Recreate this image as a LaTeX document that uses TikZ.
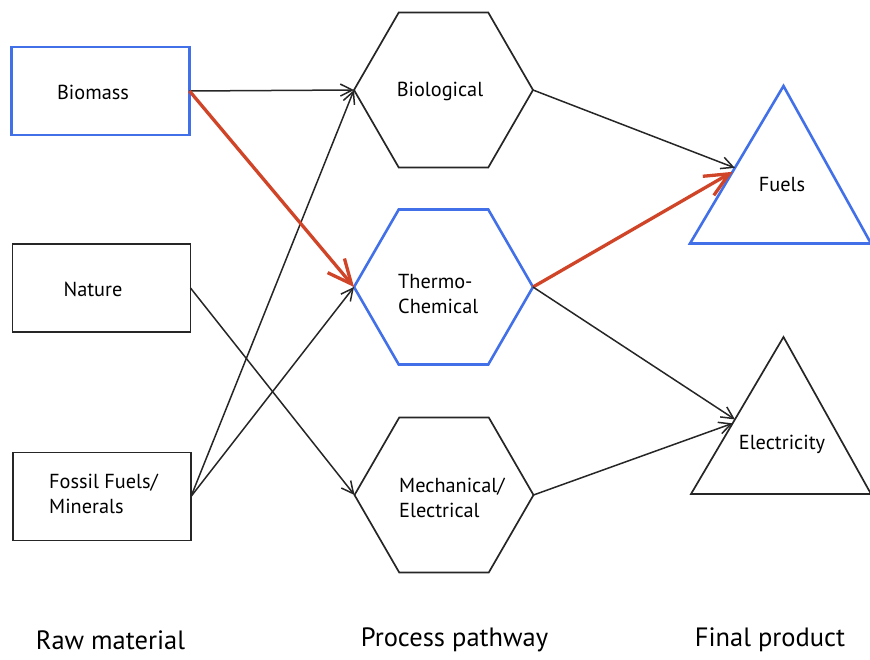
\documentclass[tikz,border=0pt]{standalone}
\usepackage{fontspec}
\setmainfont{PT Sans}
\usetikzlibrary{arrows.meta,shapes.geometric,calc}
\definecolor{hiblue}{RGB}{66,112,232}
\definecolor{hired}{RGB}{208,68,40}
\begin{document}
\begin{tikzpicture}[x=1pt,y=-1pt,
  lbl/.style={font=\fontsize{20.3}{25}\selectfont, align=left, inner sep=0pt},
  headlbl/.style={font=\fontsize{26.5}{30}\selectfont, inner sep=0pt},
  srcbox/.style={draw=black!85, line width=1.7pt, minimum width=178pt, minimum height=88pt, inner sep=0pt, outer sep=0pt},
  hexa/.style={draw=black!85, line width=1.7pt, regular polygon, regular polygon sides=6, minimum size=179pt, inner sep=0pt, outer sep=0pt},
  trioutline/.style={draw=black!85, line width=1.7pt, line join=miter},
  hilite/.style={draw=hiblue, line width=2.6pt},
  flow/.style={draw=black!85, line width=1.5pt, -{Straight Barb[length=12pt,width=12pt,line width=1.5pt]}},
  redflow/.style={draw=hired, line width=3.3pt, -{Straight Barb[length=24pt,width=22pt,line width=3.3pt]}}
]
\useasboundingbox (0,0) rectangle (870,660);

% raw materials
\node[srcbox, hilite] (biomass) at (100.5,91) {};
\node[srcbox] (nature) at (101.5,288) {};
\node[srcbox] (fossil) at (102,496.5) {};
\node[lbl] (tbiomass) at (93,92) {Biomass};
\node[lbl] (tnature) at (93,289) {Nature};
\node[lbl, anchor=west] (tfossil) at (49,494) {Fossil Fuels/\\Minerals};

% process pathways
\node[hexa] (bio) at (443.5,90) {};
\node[hexa, hilite] (thermo) at (443.5,287) {};
\node[hexa] (mech) at (444,495) {};
\node[lbl] (tbio) at (440,91) {Biological};
\node[lbl, anchor=west] (tthermo) at (398,294) {Thermo-\\Chemical};
\node[lbl, anchor=west] (tmech) at (399,498) {Mechanical/\\Electrical};

% final products
\coordinate (fuelsTop) at (783.5,86);
\coordinate (fuelsL) at (690,243.5);
\coordinate (fuelsR) at (871,243.5);
\coordinate (elecTop) at (783.5,337);
\coordinate (elecL) at (691,494);
\coordinate (elecR) at (871,494);
\draw[trioutline, hilite] (fuelsTop) -- (fuelsL) -- (fuelsR) -- cycle;
\draw[trioutline] (elecTop) -- (elecL) -- (elecR) -- cycle;
\node[lbl] (tfuels) at (782,185) {Fuels};
\node[lbl] (telec) at (782,444) {Electricity};
\coordinate (fuelsIn1) at ($(fuelsTop)!0.52!(fuelsL)$);
\coordinate (fuelsIn2) at ($(fuelsTop)!0.545!(fuelsL)$);
\coordinate (elecIn1) at ($(elecTop)!0.525!(elecL)$);
\coordinate (elecIn2) at ($(elecTop)!0.55!(elecL)$);

% connectors
\draw[flow] (biomass.east) -- (bio.west);
\draw[flow] (fossil.east) -- (bio.west);
\draw[flow] (fossil.east) -- (thermo.west);
\draw[flow] (nature.east) -- (mech.west);
\draw[redflow] (biomass.east) -- (thermo.west);
\draw[flow] (bio.east) -- (fuelsIn1);
\draw[redflow] (thermo.east) -- (fuelsIn2);
\draw[flow] (thermo.east) -- (elecIn1);
\draw[flow] (mech.east) -- (elecIn2);

% column headings
\node[headlbl] (hraw) at (110.5,640) {Raw material};
\node[headlbl] (hproc) at (454.5,640) {Process pathway};
\node[headlbl] (hfinal) at (770,640) {Final product};
\end{tikzpicture}
\end{document}
